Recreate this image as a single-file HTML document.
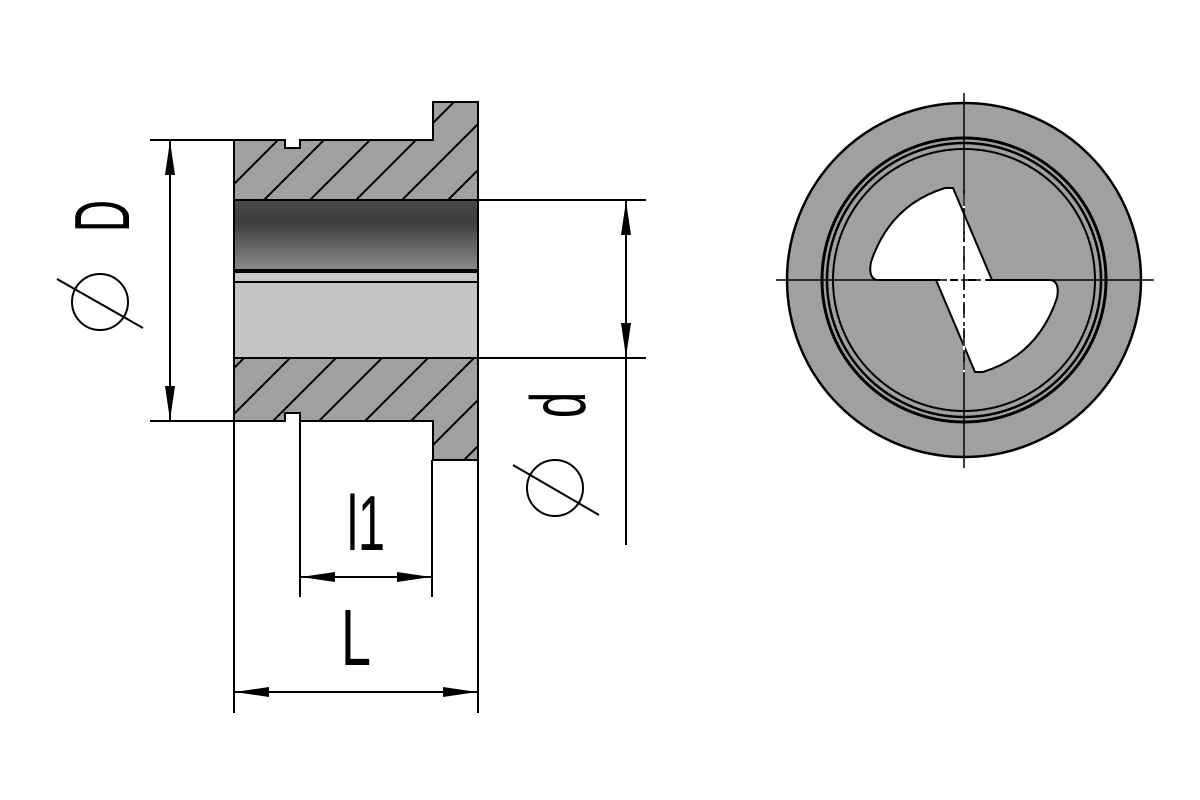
<!DOCTYPE html>
<html><head><meta charset="utf-8"><style>html,body{margin:0;padding:0;background:#fff}svg{display:block}</style></head>
<body>
<svg width="1200" height="800" viewBox="0 0 1200 800" xmlns="http://www.w3.org/2000/svg">
<defs>
<linearGradient id="bore" x1="0" y1="0" x2="0" y2="1">
<stop offset="0" stop-color="#4a4a4a"/><stop offset="0.3" stop-color="#3c3c3c"/><stop offset="1" stop-color="#8a8a8a"/>
</linearGradient>
<pattern id="hatch" patternUnits="userSpaceOnUse" width="46" height="46" patternTransform="translate(234,0)">
<rect width="46" height="46" fill="#a0a0a0"/>
<path d="M-2,48 L48,-2 M-48,48 L2,-2 M44,48 L94,-2" stroke="#000" stroke-width="2"/>
</pattern>
<marker id="ar" viewBox="0 0 34 10" refX="34" refY="5" markerWidth="34" markerHeight="10" markerUnits="userSpaceOnUse" orient="auto-start-reverse">
<path d="M0,0 L34,5 L0,10 Z" fill="#000"/>
</marker>
</defs>
<g stroke="#000" stroke-width="2" fill="none">
<path d="M234,140 L285,140 L285,148 L300,148 L300,140 L433,140 L433,102 L478,102 L478,200 L234,200 Z" fill="url(#hatch)"/>
<path d="M234,358 L478,358 L478,460 L433,460 L433,421 L300,421 L300,413 L285,413 L285,421 L234,421 Z" fill="url(#hatch)"/>
<rect x="234" y="200" width="244" height="70" fill="url(#bore)"/>
<rect x="234" y="270" width="244" height="12" fill="#c8c8c8"/>
<line x1="234" y1="272" x2="478" y2="272"/>
<rect x="234" y="282" width="244" height="76" fill="#c4c4c4"/>
<line x1="150" y1="140" x2="234" y2="140"/>
<line x1="150" y1="421" x2="234" y2="421"/>
<line x1="478" y1="200" x2="646" y2="200"/>
<line x1="478" y1="358" x2="646" y2="358"/>
<line x1="234" y1="421" x2="234" y2="713"/>
<line x1="478" y1="460" x2="478" y2="713"/>
<line x1="300" y1="421" x2="300" y2="597"/>
<line x1="432" y1="460" x2="432" y2="597"/>
<line x1="170" y1="141" x2="170" y2="420" marker-start="url(#ar)" marker-end="url(#ar)"/>
<line x1="626" y1="201" x2="626" y2="357" marker-start="url(#ar)" marker-end="url(#ar)"/>
<line x1="626" y1="357" x2="626" y2="545"/>
<line x1="301" y1="577" x2="431" y2="577" marker-start="url(#ar)" marker-end="url(#ar)"/>
<line x1="235" y1="692" x2="477" y2="692" marker-start="url(#ar)" marker-end="url(#ar)"/>
<circle cx="100" cy="302" r="28"/>
<line x1="57" y1="279" x2="143" y2="328"/>
<circle cx="555" cy="488" r="28"/>
<line x1="513" y1="465" x2="599" y2="515"/>
</g>
<g font-family="Liberation Sans, sans-serif" fill="#000">
<text transform="translate(129,216) rotate(-90)" font-size="78" text-anchor="middle" textLength="32" lengthAdjust="spacingAndGlyphs">D</text>
<text transform="translate(585,405) rotate(-90)" font-size="78" text-anchor="middle" textLength="26" lengthAdjust="spacingAndGlyphs">d</text>
<text x="366" y="550" font-size="78" text-anchor="middle" textLength="38" lengthAdjust="spacingAndGlyphs">l1</text>
<text x="356" y="665" font-size="80" text-anchor="middle" textLength="30" lengthAdjust="spacingAndGlyphs">L</text>
</g>
<g stroke="#000" fill="none">
<circle cx="964" cy="280" r="177" fill="#a0a0a0" stroke-width="2.5"/>
<circle cx="964" cy="280" r="142" stroke-width="3"/>
<circle cx="964" cy="280" r="137" stroke-width="2.5"/>
<circle cx="964" cy="280" r="131" stroke-width="2"/>
<path d="M953,188 L992,280 L877,280 Q868,278 871,262 Q890,205 945,188 Z" fill="#fff" stroke-width="2"/>
<path d="M975,372 L936,280 L1051,280 Q1060,282 1057,298 Q1038,355 983,372 Z" fill="#fff" stroke-width="2"/>
<line x1="964" y1="93" x2="964" y2="468" stroke-width="1.5"/>
<line x1="776" y1="280" x2="1154" y2="280" stroke-width="1.5"/>
<line x1="964" y1="188" x2="964" y2="372" stroke="#fff" stroke-width="2" stroke-dasharray="0 6 14 4"/>
<line x1="936" y1="280" x2="992" y2="280" stroke="#fff" stroke-width="2" stroke-dasharray="0 4 10 4"/>
<line x1="964" y1="190" x2="964" y2="370" stroke-width="1.5" stroke-dasharray="16 4 4 4"/>
<line x1="937" y1="280" x2="991" y2="280" stroke-width="1.5" stroke-dasharray="10 4 6 4"/>
</g>
</svg>
</body></html>
